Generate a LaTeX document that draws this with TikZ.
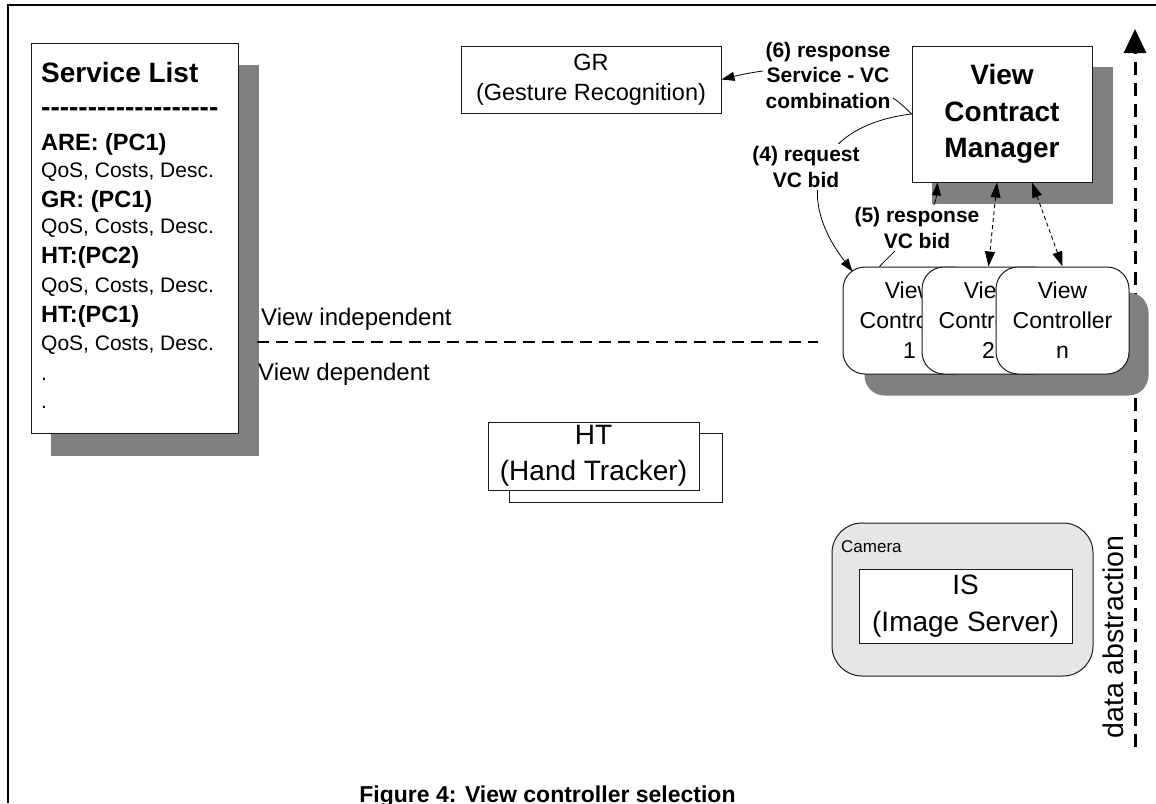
\documentclass[tikz,border=0pt]{standalone}
\usepackage{fontspec}
\setmainfont{Liberation Sans}[Ligatures=TeXOff]
\usetikzlibrary{arrows.meta}
\pgfdeclarelayer{shade}
\pgfsetlayers{shade,main}
\newcommand\fsz[2]{\fontsize{#1}{#2}\selectfont}
\definecolor{shadowgray}{HTML}{808080}
\definecolor{camfill}{HTML}{E6E6E6}
\definecolor{edge}{HTML}{1A1A1A}
\tikzset{
  box/.style={draw=edge, line width=1pt, fill=white, inner sep=0pt, align=center},
  vcbox/.style={box, rounded corners=22pt, minimum width=133pt, minimum height=107pt, font=\fsz{23}{30}},
  msg/.style={fill=white, inner sep=3pt, align=center, font=\fsz{21}{25.5}\bfseries},
  arr/.style={line width=0.8pt, -{Triangle[length=13pt,width=9pt]}},
  dblarr/.style={line width=0.9pt, dash pattern=on 4pt off 3pt,
    {Triangle[length=15pt,width=10pt]}-{Triangle[length=15pt,width=10pt]}},
  dataarr/.style={line width=3pt, dash pattern=on 13pt off 8pt, -{Triangle[length=24pt,width=22pt]}},
  viewline/.style={line width=2pt, dash pattern=on 12pt off 7pt},
  listtext/.style={anchor=base west, inner sep=0pt, font=\fsz{21}{28}},
  listhead/.style={anchor=base west, inner sep=0pt, font=\fsz{23.5}{28}\bfseries},
  plain/.style={anchor=base west, inner sep=0pt},
}
\begin{document}
\begin{tikzpicture}[x=1pt,y=-1pt]
\useasboundingbox (0,0) rectangle (1156,803);
\clip (0,0) rectangle (1156,803);

% outer frame
\draw[line width=2.2pt] (7.7,803) -- (7.7,5) -- (1156,5);

% service list
\node[box, minimum width=207pt, minimum height=390pt] (svc) at (134.5,238) {};
\node[plain, font=\fsz{28}{34}\bfseries] (svctitle) at (41,82) {Service List};
\node[plain, font=\fsz{28}{34}\bfseries] (svcrule) at (41,116) {-------------------};
\node[listhead] (s1) at (41,150) {ARE: (PC1)};
\node[listtext] (s2) at (41,177) {QoS, Costs, Desc.};
\node[listhead] (s3) at (41,207) {GR: (PC1)};
\node[listtext] (s4) at (41,233) {QoS, Costs, Desc.};
\node[listhead] (s5) at (41,263) {HT:(PC2)};
\node[listtext] (s6) at (41,292) {QoS, Costs, Desc.};
\node[listhead] (s7) at (41,322) {HT:(PC1)};
\node[listtext] (s8) at (41,350) {QoS, Costs, Desc.};
\node[listtext] (s9) at (41,380) {.};
\node[listtext] (s10) at (41,408) {.};

% services
\node[box, minimum width=260pt, minimum height=67pt, font=\fsz{23.5}{30}] (gr) at (591,79.5) {GR\\(Gesture Recognition)};
\node[box, minimum width=180pt, minimum height=136pt, font=\fsz{28}{36.5}\bfseries] (vcm) at (1002,114) {View\\Contract\\Manager};

% view controllers
\node[vcbox] (vc1) at (909.5,320.5) {View\\Controller\\1};
\node[vcbox] (vc2) at (988.5,320.5) {View\\Controller\\2};
\node[vcbox] (vcn) at (1062.5,320.5) {View\\Controller\\n};

% hand tracker (two instances)
\node[box, minimum width=213pt, minimum height=69pt] (htback) at (615.5,467.5) {};
\node[box, minimum width=211pt, minimum height=68pt, font=\fsz{28}{36}] (ht) at (593.5,456) {HT\\(Hand Tracker)};

% camera with image server
\node[box, fill=camfill, rounded corners=30pt, minimum width=261pt, minimum height=153pt] (cam) at (962.5,599.5) {};
\node[plain, font=\fsz{17}{20}] (camlabel) at (841,552) {Camera};
\node[box, minimum width=213pt, minimum height=74pt, font=\fsz{28}{37}] (is) at (965.5,606) {IS\\(Image Server)};

% view independent / dependent split
\node[plain, font=\fsz{24}{28}] (vind) at (261,325) {View independent};
\node[plain, font=\fsz{24}{28}] (vdep) at (258,380) {View dependent};
\coordinate (vl0) at (257,342);
\coordinate (vl1) at (818,342);
\draw[viewline] (vl0) -- (vl1);

% data abstraction axis
\node[rotate=90, anchor=base, inner sep=0pt, font=\fsz{28.5}{34}] (dalabel) at (1123,637) {data abstraction};
\coordinate (dabot) at (1135,747);
\coordinate (datop) at (1135,29);

% shadows and the axis behind them
\begin{pgfonlayer}{shade}
  \draw[dataarr] (dabot) -- (datop);
  \fill[shadowgray] ([shift={(20,22)}]svc.north west) rectangle ([shift={(20,22)}]svc.south east);
  \fill[shadowgray] ([shift={(20,21)}]vcm.north west) rectangle ([shift={(20,21)}]vcm.south east);
  \fill[shadowgray, rounded corners=20pt] ([shift={(22,26)}]vc1.north west) rectangle ([shift={(19,21)}]vcn.south east);
\end{pgfonlayer}

% messages
\coordinate (vc1tip) at ([shift={(10,5)}]vc1.north west);
\draw[arr] (vcm.west) .. controls (860,60) and (780,65) .. (gr.east);
\draw[arr] (vcm.west) .. controls (820,125) and (790,190) .. (vc1tip);
\draw[arr] ([xshift=-30pt]vc1.north) .. controls (905,240) and (935,215) .. ([xshift=26pt]vcm.south west);
\draw[dblarr] ([xshift=-5pt]vcm.south) -- (vc2.north);
\draw[dblarr] ([xshift=30pt]vcm.south) -- (vcn.north);

\node[msg] (lab6) at (828,75) {(6) response\\Service - VC\\combination};
\node[msg] (lab4) at (806,167) {(4) request\\VC bid};
\node[msg] (lab5) at (917,228) {(5) response\\VC bid};

% caption
\node[anchor=base, inner sep=0pt, font=\fsz{23}{28}\bfseries] (caption) at (547.5,802) {Figure 4: View controller selection};
\end{tikzpicture}
\end{document}
